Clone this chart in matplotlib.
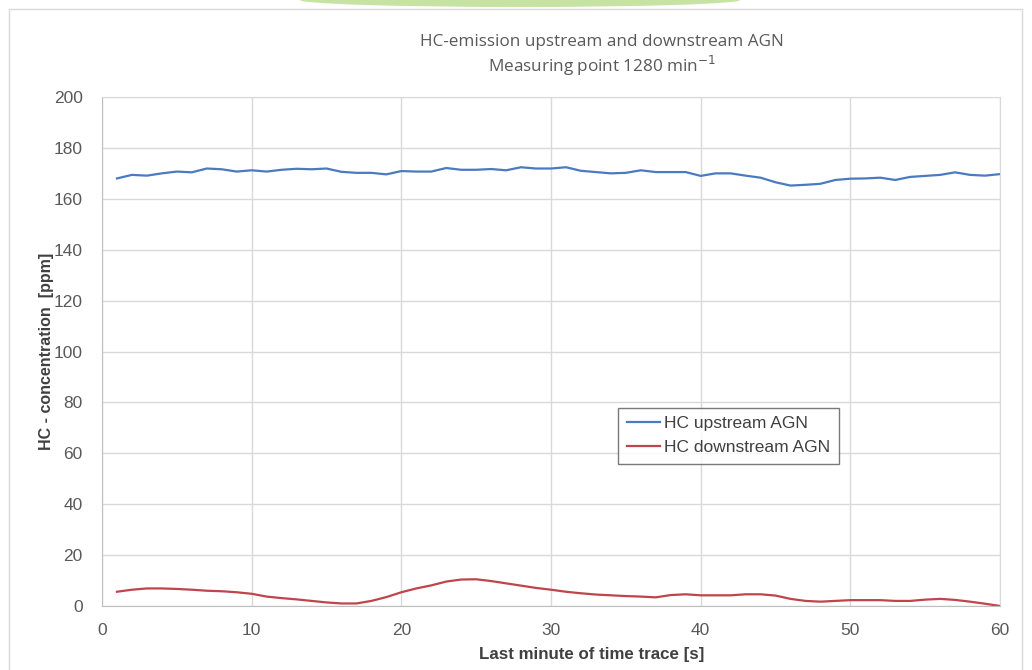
import numpy as np
import matplotlib.pyplot as plt
from matplotlib.patches import Rectangle, Ellipse

# seconds of the last minute
seconds = list(range(1, 61))

hc_upstream = [168.0, 169.4, 169.1, 170.0, 170.7, 170.4, 171.9, 171.6, 170.7, 171.2,
               170.7, 171.4, 171.8, 171.6, 171.9, 170.6, 170.2, 170.2, 169.6, 170.9,
               170.7, 170.7, 172.1, 171.4, 171.4, 171.7, 171.2, 172.4, 171.9, 171.9,
               172.4, 171.0, 170.5, 170.0, 170.2, 171.2, 170.5, 170.5, 170.5, 169.0,
               170.0, 170.0, 169.1, 168.3, 166.5, 165.2, 165.5, 165.9, 167.4, 167.9,
               168.0, 168.3, 167.4, 168.6, 169.0, 169.4, 170.4, 169.4, 169.1, 169.7]

hc_downstream = [5.6, 6.4, 6.9, 6.9, 6.7, 6.4, 6.0, 5.8, 5.4, 4.8,
                 3.7, 3.1, 2.6, 2.0, 1.4, 1.0, 1.0, 2.0, 3.5, 5.4,
                 6.9, 8.1, 9.6, 10.4, 10.5, 9.8, 8.9, 8.0, 7.1, 6.4,
                 5.6, 5.0, 4.5, 4.2, 3.9, 3.7, 3.4, 4.3, 4.6, 4.2,
                 4.2, 4.2, 4.6, 4.6, 4.1, 2.8, 2.0, 1.7, 2.0, 2.3,
                 2.3, 2.3, 2.0, 2.0, 2.5, 2.8, 2.4, 1.7, 0.9, 0.0]

x_ticks = [0, 10, 20, 30, 40, 50, 60]
y_ticks = [0, 20, 40, 60, 80, 100, 120, 140, 160, 180, 200]

plt.rcParams['font.family'] = ['Liberation Sans', 'DejaVu Sans']

fig = plt.figure(figsize=(10.32, 6.70), dpi=100)

# outer chart frame and the green strip cut off at the top of the page
fig.patches.append(Rectangle((9 / 1032, -0.05), 1013 / 1032, 1.05 - 9 / 670,
                             transform=fig.transFigure, fill=False,
                             edgecolor='#d9d9d9', linewidth=1.0))
fig.patches.append(Ellipse((520 / 1032, 1.0), 440 / 1032, 14 / 670,
                           transform=fig.transFigure, facecolor='#b9dc8c',
                           edgecolor='none', alpha=0.8))

ax = fig.add_axes([102 / 1032, 64 / 670, 898 / 1032, 509 / 670])

ax.plot(seconds, hc_upstream, color='#4a7ac0', linewidth=1.6, label='HC upstream AGN')
ax.plot(seconds, hc_downstream, color='#c0444c', linewidth=1.6, label='HC downstream AGN')

ax.set_xlim(0, 60)
ax.set_ylim(0, 200)
ax.set_xticks(x_ticks)
ax.set_yticks(y_ticks)
ax.grid(True, color='#d9d9d9', linewidth=1.0)
ax.set_axisbelow(True)
for side in ['top', 'right']:
    ax.spines[side].set_color('#d9d9d9')
for side in ['left', 'bottom']:
    ax.spines[side].set_color('#bfbfbf')
ax.tick_params(length=0, labelsize=12.5, labelcolor='#595959')
ax.tick_params(axis='y', pad=14)
ax.tick_params(axis='x', pad=12)

ax.set_ylabel('HC - concentration  [ppm]', fontsize=11.5, fontweight='bold',
              color='#404040')
ax.yaxis.set_label_coords((54 - 102) / 898, 0.5)
fig.text(592 / 1032, 1 - 655 / 670, 'Last minute of time trace [s]',
         ha='center', va='center', fontsize=12.2, fontweight='bold', color='#404040')

fig.text(602 / 1032, 1 - 42 / 670, 'HC-emission upstream and downstream AGN',
         ha='center', va='center', fontsize=12.3, color='#595959', family='Open Sans')
fig.text(602 / 1032, 1 - 66 / 670, 'Measuring point 1280 min$^{-1}$',
         ha='center', va='center', fontsize=12.3, color='#595959', family='Open Sans')

leg = ax.legend(loc='lower left', bbox_to_anchor=(0.575, 0.279), fontsize=12.5,
                frameon=True, fancybox=False, handlelength=1.9, handletextpad=0.25,
                borderpad=0.5, labelspacing=0.5, labelcolor='#404040',
                borderaxespad=0)
leg.get_frame().set_edgecolor('#595959')
leg.get_frame().set_linewidth(1.0)

fig.savefig('out.png', dpi=100)
